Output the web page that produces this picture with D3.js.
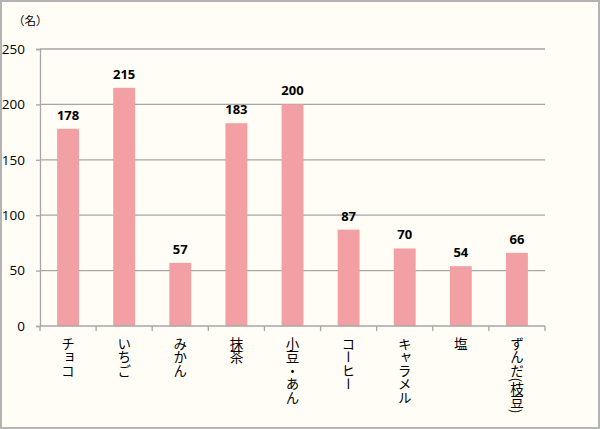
<!DOCTYPE html>
<html><head><meta charset="utf-8">
<script src="https://cdn.jsdelivr.net/npm/d3@7"></script>
<style>
html,body{margin:0;padding:0;background:#fff;}
svg{display:block;}
.cat{writing-mode:vertical-rl;text-orientation:mixed;}
</style></head>
<body>
<svg id="c" width="600" height="429"></svg>
<script>
const categories = ["チョコ","いちご","みかん","抹茶","小豆・あん","コーヒー","キャラメル","塩","ずんだ(枝豆)"];
const values = [178,215,57,183,200,87,70,54,66];
const yTicks = [0,50,100,150,200,250];
const unitLabel = "（名）";

const svg = d3.select("#c");
const W = 600, H = 429;
const m = {left:40, right:55, top:49, bottom:103};

svg.append("rect").attr("x",1).attr("y",1).attr("width",W-2).attr("height",H-2)
  .attr("fill","#fffdf6").attr("stroke","#b4b4b4").attr("stroke-width",2);

const x = d3.scaleBand().domain(categories).range([m.left, W-m.right]).paddingInner(0.61).paddingOuter(0.305);
const y = d3.scaleLinear().domain([0,250]).range([H-m.bottom, m.top]);

// gridlines
svg.append("g").selectAll("line").data(yTicks.filter(d=>d>0)).join("line")
  .attr("x1",m.left).attr("x2",W-m.right)
  .attr("y1",d=>y(d)).attr("y2",d=>y(d))
  .attr("stroke","#a6a6a6").attr("stroke-width",1.3);

// y axis
const ya = svg.append("g").attr("transform",`translate(${m.left},0)`)
  .call(d3.axisLeft(y).tickValues(yTicks).tickSize(4).tickPadding(11));
ya.select(".domain").attr("stroke","#a6a6a6").attr("stroke-width",1.3);
ya.selectAll(".tick line").attr("stroke","#a6a6a6").attr("stroke-width",1.3);
ya.selectAll(".tick text").attr("font-family","Open Sans, DejaVu Sans, sans-serif").attr("font-size",13.5).attr("fill","#000");

// bars
svg.append("g").selectAll("rect").data(values).join("rect")
  .attr("x",(d,i)=>x(categories[i])).attr("width",x.bandwidth())
  .attr("y",d=>y(d)).attr("height",d=>y(0)-y(d))
  .attr("fill","#f3a0a5");

// x axis
const boundaries = d3.range(categories.length+1).map(i=>m.left + i*(W-m.left-m.right)/categories.length);
svg.append("line").attr("x1",m.left).attr("x2",W-m.right).attr("y1",y(0)).attr("y2",y(0))
  .attr("stroke","#a6a6a6").attr("stroke-width",1.3);
svg.append("g").selectAll("line").data(boundaries).join("line")
  .attr("x1",d=>d).attr("x2",d=>d).attr("y1",y(0)).attr("y2",y(0)+5)
  .attr("stroke","#a6a6a6").attr("stroke-width",1.3);

// value labels
svg.append("g").selectAll("text").data(values).join("text")
  .attr("x",(d,i)=>x(categories[i])+x.bandwidth()/2).attr("y",d=>y(d)-9)
  .attr("text-anchor","middle").attr("font-family","Open Sans, Liberation Sans, sans-serif")
  .attr("font-weight","bold").attr("font-size",13).attr("fill","#000")
  .text(d=>d);

// category labels (vertical)
svg.append("g").selectAll("text").data(categories).join("text")
  .attr("class","cat")
  .attr("x",d=>x(d)+x.bandwidth()/2).attr("y",y(0)+11)
  .attr("font-family","Noto Sans CJK JP, sans-serif").attr("font-size",13.5).attr("fill","#000")
  .text(d=>d);

// unit label
svg.append("text").attr("x",13).attr("y",25).attr("font-family","Noto Sans CJK JP, sans-serif")
  .attr("font-size",11.5).attr("fill","#000").text(unitLabel);
</script>
</body></html>
